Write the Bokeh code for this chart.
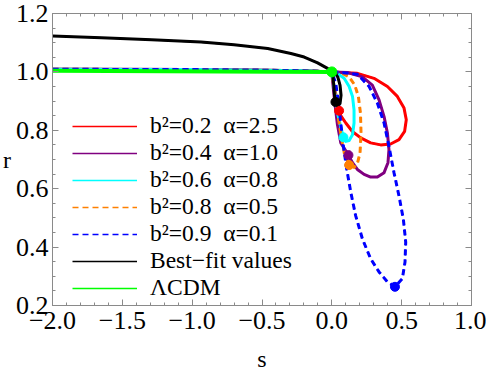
from bokeh.plotting import figure
from bokeh.models import Range1d, LinearAxis, FixedTicker, Legend, LegendItem
from bokeh.embed import file_html
from bokeh.resources import INLINE

# ---------------- data ----------------
s_red = [-2.0, -1.0, -0.5, -0.2, 0.0, 0.064, 0.183, 0.302, 0.398, 0.469, 0.517, 0.533, 0.521, 0.481,
         0.421, 0.35, 0.278, 0.207, 0.147, 0.1, 0.064, 0.052, 0.03, 0.012, 0.0]
r_red = [1.009, 1.008, 1.006, 1.004, 1.0, 0.998, 0.995, 0.978, 0.95, 0.916, 0.876, 0.836, 0.796, 0.768,
         0.753, 0.75, 0.757, 0.774, 0.796, 0.825, 0.85, 0.867, 0.92, 0.96, 1.0]
s_red_today = [0.052]
r_red_today = [0.867]

s_purple = [-2.0, -1.0, -0.5, -0.2, 0.0, 0.112, 0.219, 0.29, 0.338, 0.374, 0.398, 0.409, 0.402, 0.374,
            0.326, 0.278, 0.231, 0.183, 0.148, 0.119, 0.064, 0.04, 0.02, 0.005, 0.0]
r_purple = [1.009, 1.008, 1.006, 1.004, 1.0, 0.998, 0.983, 0.955, 0.904, 0.847, 0.791, 0.734, 0.689, 0.655,
            0.64, 0.64, 0.649, 0.666, 0.689, 0.715, 0.757, 0.82, 0.9, 0.97, 1.0]
s_purple_today = [0.119]
r_purple_today = [0.715]

s_cyan = [-2.0, -1.0, -0.5, -0.2, 0.0, 0.04, 0.088, 0.124, 0.148, 0.159, 0.159, 0.148, 0.124, 0.1,
          0.083, 0.07, 0.055, 0.041, 0.025, 0.01, 0.0]
r_cyan = [1.009, 1.008, 1.006, 1.004, 1.0, 0.995, 0.978, 0.95, 0.916, 0.87, 0.825, 0.785, 0.765, 0.762,
          0.776, 0.8, 0.83, 0.859, 0.92, 0.97, 1.0]
s_cyan_today = [0.083]
r_cyan_today = [0.776]

s_orange = [-2.0, -1.0, -0.5, -0.2, 0.0, 0.064, 0.124, 0.164, 0.19, 0.205, 0.209, 0.202, 0.183, 0.16,
            0.124, 0.09, 0.06, 0.035, 0.015, 0.0]
r_orange = [1.009, 1.008, 1.006, 1.004, 1.0, 0.997, 0.983, 0.955, 0.916, 0.859, 0.791, 0.723, 0.686, 0.673,
            0.681, 0.72, 0.8, 0.88, 0.95, 1.0]
s_orange_today = [0.124]
r_orange_today = [0.681]

s_blue = [-2.0, -1.0, -0.5, -0.2, 0.0, 0.064, 0.183, 0.267, 0.326, 0.374, 0.409, 0.445, 0.481, 0.512,
          0.529, 0.524, 0.505, 0.452, 0.398, 0.338, 0.278, 0.219, 0.171, 0.136, 0.107, 0.083, 0.064,
          0.045, 0.028, 0.0]
r_blue = [1.009, 1.008, 1.006, 1.004, 1.0, 0.998, 0.992, 0.95, 0.893, 0.825, 0.745, 0.655, 0.575, 0.496,
          0.417, 0.349, 0.292, 0.264, 0.281, 0.315, 0.36, 0.428, 0.507, 0.587, 0.666, 0.745, 0.825,
          0.904, 0.961, 1.0]
s_blue_today = [0.452]
r_blue_today = [0.264]

s_black = [-2.0, -1.65, -1.29, -0.936, -0.7, -0.459, -0.293, -0.198, -0.102, -0.031, 0.0, 0.019, 0.043,
           0.059, 0.066, 0.059, 0.043, 0.026, 0.019, 0.014, 0.007, 0.0]
r_black = [1.123, 1.117, 1.11, 1.102, 1.093, 1.08, 1.063, 1.051, 1.031, 1.012, 1.0, 0.999, 0.982,
           0.954, 0.92, 0.892, 0.884, 0.897, 0.92, 0.954, 0.988, 1.0]
s_black_today = [0.026]
r_black_today = [0.897]

s_lcdm = [-2.0, 0.0]
r_lcdm = [1.004, 1.0]
s_lcdm_point = [0.0]
r_lcdm_point = [1.0]

labels = ["b\u00b2=0.2\u2002\u03b1=2.5", "b\u00b2=0.4\u2002\u03b1=1.0", "b\u00b2=0.6\u2002\u03b1=0.8",
          "b\u00b2=0.8\u2002\u03b1=0.5", "b\u00b2=0.9\u2002\u03b1=0.1", "Best\u2212fit values", "\u039bCDM"]

x_ticks = [-2.0, -1.5, -1.0, -0.5, 0.0, 0.5, 1.0]
x_tick_labels = ["\u22122.0", "\u22121.5", "\u22121.0", "\u22120.5", "0.0", "0.5", "1.0"]
y_ticks = [0.2, 0.4, 0.6, 0.8, 1.0, 1.2]
y_tick_labels = ["0.2", "0.4", "0.6", "0.8", "1.0", "1.2"]
x_minor = [round(-2.0 + 0.1 * i, 2) for i in range(31)]
y_minor = [round(0.2 + 0.05 * i, 2) for i in range(21)]

FONT = "Liberation Serif"
GRAY = "#8a8a8a"

p = figure(width=486, height=374, x_range=Range1d(-2, 1), y_range=Range1d(0.2, 1.2),
           output_backend="svg", toolbar_location=None,
           min_border_left=51, min_border_right=15, min_border_top=13, min_border_bottom=67,
           x_axis_label="s", y_axis_label="r")
p.xgrid.visible = False
p.ygrid.visible = False
p.outline_line_color = GRAY
p.background_fill_color = "white"


def style_axis(ax, ticks, minor, tick_labels, show):
    ax.ticker = FixedTicker(ticks=ticks, minor_ticks=minor)
    ax.major_tick_in = 6
    ax.major_tick_out = 0
    ax.minor_tick_in = 3
    ax.minor_tick_out = 0
    ax.axis_line_color = GRAY
    ax.major_tick_line_color = GRAY
    ax.minor_tick_line_color = GRAY
    if show:
        ax.major_label_overrides = {t: l for t, l in zip(ticks, tick_labels)}
        ax.major_label_text_font = FONT
        ax.major_label_text_font_size = "26px"
        ax.major_label_text_color = "black"
        ax.axis_label_text_font = FONT
        ax.axis_label_text_font_size = "24px"
        ax.axis_label_text_font_style = "normal"
        ax.axis_label_text_color = "black"
    else:
        ax.major_label_overrides = {t: "" for t in ticks}
        ax.major_label_text_font_size = "0px"
        ax.major_label_standoff = 0


style_axis(p.xaxis[0], x_ticks, x_minor, x_tick_labels, True)
p.xaxis[0].major_label_standoff = 6
p.xaxis[0].axis_label_standoff = 14
style_axis(p.yaxis[0], y_ticks, y_minor, y_tick_labels, True)
p.yaxis[0].major_label_standoff = 4
p.yaxis[0].axis_label_standoff = 2
p.yaxis[0].axis_label_orientation = "horizontal"

top_axis = LinearAxis()
style_axis(top_axis, x_ticks, x_minor, x_tick_labels, False)
p.add_layout(top_axis, "above")
right_axis = LinearAxis()
style_axis(right_axis, y_ticks, y_minor, y_tick_labels, False)
p.add_layout(right_axis, "right")

series = [
    (s_red, r_red, s_red_today, r_red_today, "#FF0000", "solid"),
    (s_purple, r_purple, s_purple_today, r_purple_today, "#800080", "solid"),
    (s_cyan, r_cyan, s_cyan_today, r_cyan_today, "#00FFFF", "solid"),
    (s_orange, r_orange, s_orange_today, r_orange_today, "#FF8000", "6 4"),
    (s_blue, r_blue, s_blue_today, r_blue_today, "#0000FF", "6 4"),
    (s_black, r_black, s_black_today, r_black_today, "#000000", "solid"),
    (s_lcdm, r_lcdm, s_lcdm_point, r_lcdm_point, "#00FF00", "solid"),
]

items = []
for i, (sx, ry, st, rt, col, dash) in enumerate(series):
    lw = 4 if i == 6 else 3
    # thin copy (same data) used as the legend key, hidden under the thick curve
    thin = p.line(sx, ry, line_color=col, line_width=1.6, line_dash=dash)
    p.line(sx, ry, line_color=col, line_width=lw, line_dash=dash, line_join="round")
    items.append(LegendItem(label=labels[i], renderers=[thin]))

for i, (sx, ry, st, rt, col, dash) in enumerate(series):
    p.scatter(st, rt, marker="circle", size=9 if i != 6 else 10, fill_color=col, line_color=col)

legend = Legend(items=items, location=(20, 4), padding=0, margin=0, spacing=-2,
                glyph_width=65, glyph_height=20, label_height=20, label_standoff=13,
                label_text_font=FONT, label_text_font_size="23.5px", label_text_color="black",
                background_fill_alpha=0, border_line_alpha=0)
p.add_layout(legend)

open("out.html", "w").write(file_html(p, INLINE))
